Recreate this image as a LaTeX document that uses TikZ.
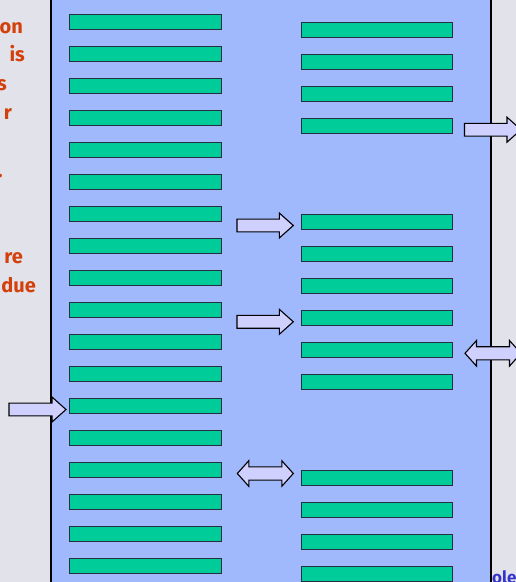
\documentclass[tikz,border=0pt]{standalone}
\usepackage{fontspec}
\setmainfont{Fira Sans}

\definecolor{pagegray}{RGB}{226,227,234}
\definecolor{panelblue}{RGB}{160,184,252}
\definecolor{barteal}{RGB}{0,204,153}
\definecolor{baredge}{RGB}{40,46,64}
\definecolor{arrowfill}{RGB}{208,208,255}
\definecolor{noteorange}{RGB}{212,64,12}
\definecolor{noteblue}{RGB}{51,51,204}

\tikzset{
  bar/.style={rectangle, draw=baredge, line width=1.2pt, fill=barteal,
    inner sep=0pt, minimum height=15pt},
  leftbar/.style={bar, minimum width=152pt},
  rightbar/.style={bar, minimum width=151.5pt},
  blockarrow/.style={draw=black, line width=1.1pt, fill=arrowfill, line join=miter},
  note/.style={text=noteorange, font=\fontsize{20}{24}\selectfont\bfseries,
    inner sep=0pt, anchor=base east},
}

% block arrow pointing right: #1 tail x, #2 tip x, #3 centre y
\newcommand\BlockArrowR[3]{%
  \draw[blockarrow] (#1,{#3-6.4}) -- ({#2-14},{#3-6.4}) -- ({#2-14},{#3-12.5})
    -- (#2,#3) -- ({#2-14},{#3+12.5}) -- ({#2-14},{#3+6.4}) -- (#1,{#3+6.4}) -- cycle;}
% block arrow with heads at both ends: #1 left tip x, #2 right tip x, #3 centre y
\newcommand\BlockArrowLR[3]{%
  \draw[blockarrow] (#1,#3) -- ({#1+11.5},{#3-12.8}) -- ({#1+11.5},{#3-6.6})
    -- ({#2-11.5},{#3-6.6}) -- ({#2-11.5},{#3-12.8}) -- (#2,#3)
    -- ({#2-11.5},{#3+12.8}) -- ({#2-11.5},{#3+6.6}) -- ({#1+11.5},{#3+6.6})
    -- ({#1+11.5},{#3+12.8}) -- cycle;}

\begin{document}
\begin{tikzpicture}[x=1pt, y=-1pt]
  \useasboundingbox (0,0) rectangle (516,582);
  \clip (0,0) rectangle (516,582);
  \fill[pagegray] (0,0) rectangle (516,582);

  % margin notes, running under the panel
  \node[note] (t1) at (23,33) {on};
  \node[note] (t2) at (25,61.8) {is};
  \node[note] (t3) at (7,90.6) {s};
  \node[note] (t4) at (12,119.4) {r};
  \node[note] (t5) at (3,177) {.};
  \node[note] (t6) at (23,263.4) {re};
  \node[note] (t7) at (36,292.2) {due};

  % panel
  \draw[line width=1.6pt, draw=black, fill=panelblue] (50.8,-5) rectangle (491,590);

  % left column of blocks
  \foreach \i in {1,...,18}
    \node[leftbar] (L\i) at (145.5,{22+(\i-1)*32}) {};

  % right column of blocks, three groups
  \foreach \i/\y in {1/30,2/62,3/94,4/126,
                     5/222,6/254,7/286,8/318,9/350,10/382,
                     11/478,12/510,13/542,14/574}
    \node[rightbar] (R\i) at (377,\y) {};

  % block arrows
  \BlockArrowR{9}{66}{409.5}
  \BlockArrowR{237}{293.3}{225.5}
  \BlockArrowR{237}{293.3}{321.8}
  \BlockArrowR{464.5}{521}{129.7}
  \BlockArrowLR{237.3}{293.3}{473.5}
  \BlockArrowLR{465}{521}{353.3}

  % footer text
  \node[text=noteblue, font=\fontsize{17}{20}\selectfont\bfseries, inner sep=0pt,
        anchor=base west] (foot) at (492,583) {ole};
\end{tikzpicture}
\end{document}
